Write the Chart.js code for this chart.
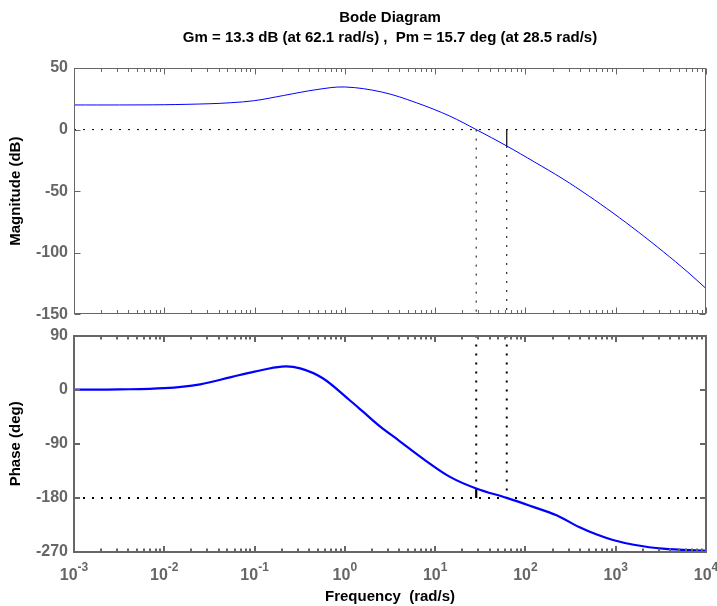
<!DOCTYPE html>
<html lang="en">
<head>
<meta charset="UTF-8">
<title>Bode Diagram</title>
<script src="https://cdn.jsdelivr.net/npm/chart.js"></script>
<style>
  body { margin: 0; background: #fff; }
  #wrap { position: relative; width: 717px; height: 606px; overflow: hidden; }
  #magChart { position: absolute; left: 0; top: 0; }
  #phaseChart { position: absolute; left: 0; top: 320px; }
</style>
</head>
<body>
<div id="wrap">
  <canvas id="magChart" width="717" height="330"></canvas>
  <canvas id="phaseChart" width="717" height="286"></canvas>
</div>
<script>
// values
const titleLines = ['Bode Diagram', 'Gm = 13.3 dB (at 62.1 rad/s) ,  Pm = 15.7 deg (at 28.5 rad/s)'];

const magFreq = [0.001, 0.0032, 0.01, 0.032, 0.054, 0.1, 0.21, 0.49, 1, 2.6, 6.2, 14.5, 28.5, 62.1, 126, 260, 500, 933, 1780, 3390, 6310, 10000];
const magDb   = [20, 20, 20.2, 21, 21.8, 23.5, 27.7, 32.5, 34.6, 30.4, 21.8, 11, 0, -13.3, -26.3, -40, -53.7, -67.7, -83.1, -99.3, -115.8, -129];

const phaseFreq = [0.001, 0.0032, 0.01, 0.025, 0.055, 0.1, 0.2, 0.32, 0.57, 1.14, 1.6, 2.45, 4, 7.7, 14.6, 28.5, 62.1, 112, 221, 398, 617, 933, 1585, 3311, 10000];
const phaseDeg  = [0, 0.5, 2.5, 9, 21, 30, 38.5, 35.5, 19, -18, -37, -61, -85, -117, -145, -164.3, -180, -193, -209, -229, -241, -250, -258, -264.5, -268];

// margins
const gmDb = 13.3, gmFreq = 62.1;
const pmDeg = 15.7, pmFreq = 28.5;

// axes
const xTicks = [0.001, 0.01, 0.1, 1, 10, 100, 1000, 10000];
const xTickExp = ['-3', '-2', '-1', '0', '1', '2', '3', '4'];
const magTicks = [50, 0, -50, -100, -150];
const phaseTicks = [90, 0, -90, -180, -270];

const axisColor = '#666';
const fontFam = '"Liberation Sans", Arial, Helvetica, sans-serif';
Chart.defaults.font.family = fontFam;

function pts(xs, ys) {
    return xs.map((v, i) => ({ x: v, y: ys[i] }));
}

function refLine(data, width, dashed) {
    return {
        data: data,
        borderColor: '#000',
        borderWidth: width,
        borderDash: dashed ? [2, 7] : [],
        pointRadius: 0,
        tension: 0
    };
}

// matlab style box with inward ticks
function boxPlugin(lw, tickVals) {
    return {
        id: 'matlabBox',
        afterDatasetsDraw(chart) {
            const { ctx, chartArea: a, scales: { x, y } } = chart;
            const off = lw % 2 ? 0.5 : 0;
            const L = Math.round(a.left) + off, R = Math.round(a.right) - off;
            const T = Math.round(a.top) + off, B = Math.round(a.bottom) - off;
            ctx.save();
            ctx.strokeStyle = axisColor;
            ctx.lineWidth = lw;
            ctx.beginPath();
            for (let i = 0; i < xTicks.length; i++) {
                const d = xTicks[i];
                let px = Math.round(x.getPixelForValue(d)) + off;
                ctx.moveTo(px, B); ctx.lineTo(px, B - 6);
                ctx.moveTo(px, T); ctx.lineTo(px, T + 6);
                if (i === xTicks.length - 1) break;
                for (let m = 2; m <= 9; m++) {
                    px = Math.round(x.getPixelForValue(d * m)) + off;
                    ctx.moveTo(px, B); ctx.lineTo(px, B - 3.5);
                    ctx.moveTo(px, T); ctx.lineTo(px, T + 3.5);
                }
            }
            tickVals.forEach(v => {
                const py = Math.round(y.getPixelForValue(v)) + off;
                ctx.moveTo(L, py); ctx.lineTo(L + 6, py);
                ctx.moveTo(R, py); ctx.lineTo(R - 6, py);
            });
            ctx.stroke();
            ctx.strokeRect(L, T, R - L, B - T);
            ctx.restore();
        }
    };
}

const titlePlugin = {
    id: 'bodeTitle',
    afterDraw(chart) {
        const { ctx, chartArea: a } = chart;
        const cx = (a.left + a.right) / 2;
        ctx.save();
        ctx.fillStyle = '#000';
        ctx.font = 'bold 15px ' + fontFam;
        ctx.textAlign = 'center';
        ctx.textBaseline = 'middle';
        titleLines.forEach((t, i) => ctx.fillText(t, cx, 18 + i * 20));
        ctx.restore();
    }
};

const xLabelPlugin = {
    id: 'powerLabels',
    afterDraw(chart) {
        const { ctx, chartArea: a, scales: { x } } = chart;
        ctx.save();
        ctx.fillStyle = axisColor;
        ctx.textBaseline = 'middle';
        ctx.textAlign = 'left';
        xTicks.forEach((v, i) => {
            const px = x.getPixelForValue(v);
            ctx.font = 'bold 16px ' + fontFam;
            const w1 = ctx.measureText('10').width;
            ctx.font = 'bold 12px ' + fontFam;
            const w2 = ctx.measureText(xTickExp[i]).width;
            const start = px - (w1 + w2) / 2;
            ctx.font = 'bold 16px ' + fontFam;
            ctx.fillText('10', start, a.bottom + 24);
            ctx.font = 'bold 12px ' + fontFam;
            ctx.fillText(xTickExp[i], start + w1, a.bottom + 16);
        });
        ctx.restore();
    }
};

function yScale(min, max, step, label, width) {
    return {
        type: 'linear',
        min: min, max: max,
        afterFit: s => { s.width = width; },
        grid: { display: false, drawTicks: false },
        border: { display: false },
        ticks: { stepSize: step, padding: 6, color: axisColor, font: { size: 16, weight: 'bold' } },
        title: { display: true, text: label, color: '#000', font: { size: 15, weight: 'bold' }, padding: { top: 7, bottom: 0 } }
    };
}

function xScale(height, withTitle) {
    return {
        type: 'logarithmic',
        min: 0.001, max: 10000,
        afterFit: s => { s.height = height; },
        grid: { display: false, drawTicks: false },
        border: { display: false },
        ticks: { display: false },
        title: { display: withTitle, text: 'Frequency  (rad/s)', color: '#000', font: { size: 15, weight: 'bold' }, padding: { top: 0, bottom: 0 } }
    };
}

new Chart(document.getElementById('magChart'), {
    type: 'line',
    data: {
        datasets: [
            { data: pts(magFreq, magDb), borderColor: '#0000ff', borderWidth: 1, pointRadius: 0, tension: 0.35 },
            refLine([{ x: gmFreq, y: 0 }, { x: gmFreq, y: -gmDb }], 1.2, false),
            refLine([{ x: xTicks[0], y: 0 }, { x: xTicks[xTicks.length - 1], y: 0 }], 1, true),
            refLine([{ x: pmFreq, y: 0 }, { x: pmFreq, y: magTicks[magTicks.length - 1] }], 1, true),
            refLine([{ x: gmFreq, y: -gmDb }, { x: gmFreq, y: magTicks[magTicks.length - 1] }], 1, true)
        ]
    },
    options: {
        responsive: false,
        animation: false,
        layout: { padding: { left: 0, right: 11, top: 68, bottom: 0 } },
        plugins: { legend: { display: false }, tooltip: { enabled: false } },
        scales: {
            x: xScale(13, false),
            y: yScale(-150, 50, 50, 'Magnitude (dB)', 74)
        }
    },
    plugins: [boxPlugin(1, magTicks), titlePlugin]
});

new Chart(document.getElementById('phaseChart'), {
    type: 'line',
    data: {
        datasets: [
            { data: pts(phaseFreq, phaseDeg), borderColor: '#0000ff', borderWidth: 2.2, pointRadius: 0, tension: 0.35 },
            refLine([{ x: pmFreq, y: -180 }, { x: pmFreq, y: -180 + pmDeg }], 2.2, false),
            refLine([{ x: xTicks[0], y: -180 }, { x: xTicks[xTicks.length - 1], y: -180 }], 2, true),
            refLine([{ x: pmFreq, y: phaseTicks[0] }, { x: pmFreq, y: -180 + pmDeg }], 2, true),
            refLine([{ x: gmFreq, y: phaseTicks[0] }, { x: gmFreq, y: -180 }], 2, true)
        ]
    },
    options: {
        responsive: false,
        animation: false,
        layout: { padding: { left: 0, right: 11, top: 14, bottom: 0 } },
        plugins: { legend: { display: false }, tooltip: { enabled: false } },
        scales: {
            x: xScale(54, true),
            y: yScale(-270, 90, 90, 'Phase (deg)', 74)
        }
    },
    plugins: [boxPlugin(2, phaseTicks), xLabelPlugin]
});
</script>
</body>
</html>
